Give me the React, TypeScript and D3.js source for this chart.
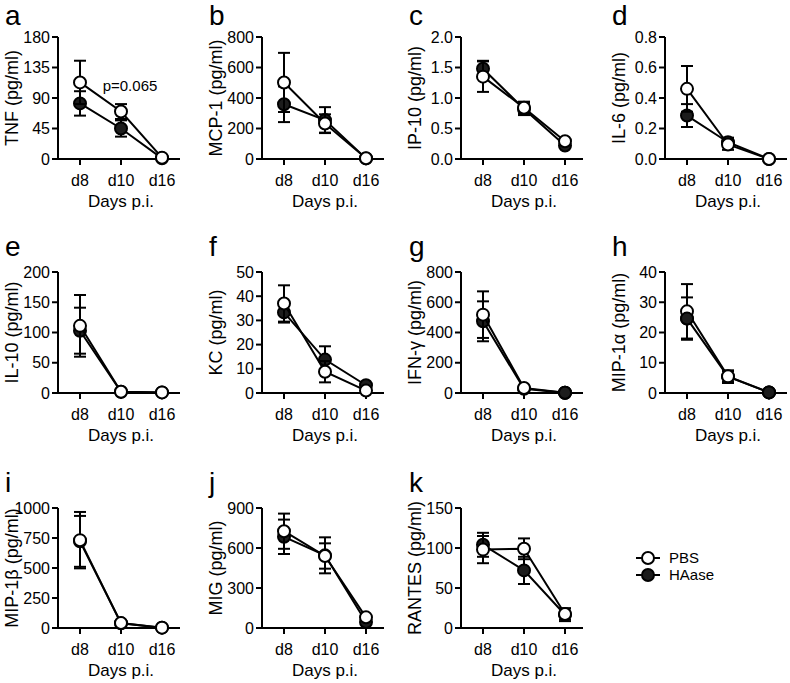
import React from "react";
import * as d3 from "d3";

const days = ["d8", "d10", "d16"];
const panelLetters = ["a", "b", "c", "d", "e", "f", "g", "h", "i", "j", "k"];
const yTitles = [
  "TNF (pg/ml)", "MCP-1 (pg/ml)", "IP-10 (pg/ml)", "IL-6 (pg/ml)",
  "IL-10 (pg/ml)", "KC (pg/ml)", "IFN-γ (pg/ml)", "MIP-1α (pg/ml)",
  "MIP-1β (pg/ml)", "MIG (pg/ml)", "RANTES (pg/ml)",
];
const yMax = [180, 800, 2, 0.8, 200, 50, 800, 40, 1000, 900, 150];
const yStep = [45, 200, 0.5, 0.2, 50, 10, 200, 10, 250, 300, 50];
const yDecimals = [0, 0, 1, 1, 0, 0, 0, 0, 0, 0, 0];

const pbsMean = [
  [113, 70, 2], [502, 233, 5], [1.35, 0.84, 0.29], [0.46, 0.095, 0.0],
  [111, 2, 1], [37, 8.8, 1.0], [518, 33, 2], [27, 5.5, 0.2],
  [732, 41, 3], [726, 540, 80], [98, 99, 17.5],
];
const pbsErr = [
  [32, 11, 1], [194, 60, 3], [0.25, 0.1, 0.03], [0.15, 0.035, 0],
  [51, 1, 0.5], [7.5, 4.4, 0.5], [154, 10, 1], [9, 1.7, 0.1],
  [235, 10, 1], [132, 95, 15], [17, 13, 7],
];
const haaseMean = [
  [82, 45, 1], [359, 255, 4], [1.48, 0.82, 0.22], [0.285, 0.11, 0.0],
  [103, 2, 1], [33.3, 13.8, 3.2], [474, 28, 2], [24.6, 5.4, 0.2],
  [722, 40, 3], [684, 545, 45], [104, 72, 16.6],
];
const haaseErr = [
  [18, 12, 1], [117, 85, 3], [0.13, 0.1, 0.03], [0.075, 0.03, 0],
  [38, 1, 0.5], [4.2, 5.5, 0.8], [132, 8, 1], [7, 2.1, 0.1],
  [212, 10, 1], [129, 135, 15], [15, 17, 8],
];
const filledOnTop = [
  [false, false, false], [false, false, false], [false, false, false], [false, false, false],
  [false, false, false], [false, false, false], [false, false, true], [true, false, true],
  [false, false, false], [false, false, false], [false, false, false],
];
const annotations = [{ panel: 0, text: "p=0.065", value: 100 }];
const legendLabels = ["PBS", "HAase"];

const FONT = "'Liberation Sans', Arial, Helvetica, sans-serif";
const colAxisX = [58, 262, 461, 665];
const rowTop = [37, 272, 508];
const rowBottom = [159, 393, 628];
const letterX = [5, 209, 409, 612];
const letterBase = [25, 256, 492];
const INK = "#000";
const FILL = "#1c1c1c";
const R = 6;

function Panel({ i }: { i: number }) {
  const col = i % 4;
  const row = Math.floor(i / 4);
  const ax = colAxisX[col];
  const top = rowTop[row];
  const bottom = rowBottom[row];
  const x = d3.scalePoint<string>().domain(days).range([ax + 22, ax + 104]);
  const y = d3.scaleLinear().domain([0, yMax[i]]).range([bottom, top]);
  const ticks = d3.range(0, yMax[i] + yStep[i] / 2, yStep[i]);
  const fmt = d3.format(`.${yDecimals[i]}f`);
  const line = d3.line<number>().x((_, k) => x(days[k])!).y((v) => y(v));

  const series = [
    { mean: haaseMean[i], err: haaseErr[i], filled: true },
    { mean: pbsMean[i], err: pbsErr[i], filled: false },
  ];

  return (
    <g>
      <text x={letterX[col]} y={letterBase[row]} fontSize={28} fontFamily={FONT} fill={INK}>
        {panelLetters[i]}
      </text>
      <line x1={ax} x2={ax} y1={top} y2={bottom + 1} stroke={INK} strokeWidth={2} />
      <line x1={ax - 1} x2={ax + 122} y1={bottom} y2={bottom} stroke={INK} strokeWidth={2} />
      {ticks.map((t) => (
        <g key={t}>
          <line x1={ax - 6} x2={ax} y1={y(t)} y2={y(t)} stroke={INK} strokeWidth={2} />
          <text x={ax - 8} y={y(t) + 5.5} textAnchor="end" fontSize={16} fontFamily={FONT} fill={INK}>
            {fmt(t)}
          </text>
        </g>
      ))}
      {days.map((dd) => (
        <g key={dd}>
          <line x1={x(dd)} x2={x(dd)} y1={bottom} y2={bottom + 6} stroke={INK} strokeWidth={2} />
          <text x={x(dd)} y={bottom + 27} textAnchor="middle" fontSize={16} fontFamily={FONT} fill={INK}>
            {dd}
          </text>
        </g>
      ))}
      <text
        transform={`translate(${ax - 46},${(top + bottom) / 2}) rotate(-90)`}
        textAnchor="middle"
        dominantBaseline="central"
        fontSize={18}
        fontFamily={FONT}
        fill={INK}
      >
        {yTitles[i]}
      </text>
      <text x={x("d10")} y={bottom + 48} textAnchor="middle" fontSize={17} fontFamily={FONT} fill={INK}>
        Days p.i.
      </text>
      {series.map((s, si) => (
        <g key={si}>
          <path d={line(s.mean) ?? ""} fill="none" stroke={INK} strokeWidth={2} />
          {s.mean.map((m, k) => {
            const cx = x(days[k])!;
            const yt = y(m + s.err[k]);
            const yb = y(Math.max(0, m - s.err[k]));
            return (
              <g key={k}>
                <line x1={cx} x2={cx} y1={yt} y2={yb} stroke={INK} strokeWidth={2} />
                <line x1={cx - 6} x2={cx + 6} y1={yt} y2={yt} stroke={INK} strokeWidth={2} />
                <line x1={cx - 6} x2={cx + 6} y1={yb} y2={yb} stroke={INK} strokeWidth={2} />
              </g>
            );
          })}
          {s.mean.map((m, k) => (
            <circle
              key={`c${k}`}
              cx={x(days[k])}
              cy={y(m)}
              r={R}
              fill={s.filled ? FILL : "#fff"}
              stroke={INK}
              strokeWidth={2}
            />
          ))}
        </g>
      ))}
      {haaseMean[i].map((m, k) =>
        filledOnTop[i][k] ? (
          <circle key={`t${k}`} cx={x(days[k])} cy={y(m)} r={R} fill={FILL} stroke={INK} strokeWidth={2} />
        ) : null
      )}
      {annotations
        .filter((a) => a.panel === i)
        .map((a) => (
          <text key={a.text} x={x("d10")! + 9} y={y(a.value)} textAnchor="middle" fontSize={15} fontFamily={FONT} fill={INK}>
            {a.text}
          </text>
        ))}
    </g>
  );
}

export default function App() {
  const legendY = [558, 575];
  return (
    <svg width={790} height={683} style={{ position: "absolute", left: 0, top: 0, background: "#fff" }}>
      <rect width={790} height={683} fill="#fff" />
      {panelLetters.map((_, i) => (
        <Panel key={i} i={i} />
      ))}
      {legendLabels.map((lab, k) => (
        <g key={lab}>
          <line x1={636} x2={660} y1={legendY[k]} y2={legendY[k]} stroke={INK} strokeWidth={2} />
          <circle cx={648} cy={legendY[k]} r={R} fill={k === 1 ? FILL : "#fff"} stroke={INK} strokeWidth={2} />
          <text x={669} y={legendY[k] + 5} fontSize={15} fontFamily={FONT} fill={INK}>
            {lab}
          </text>
        </g>
      ))}
    </svg>
  );
}
